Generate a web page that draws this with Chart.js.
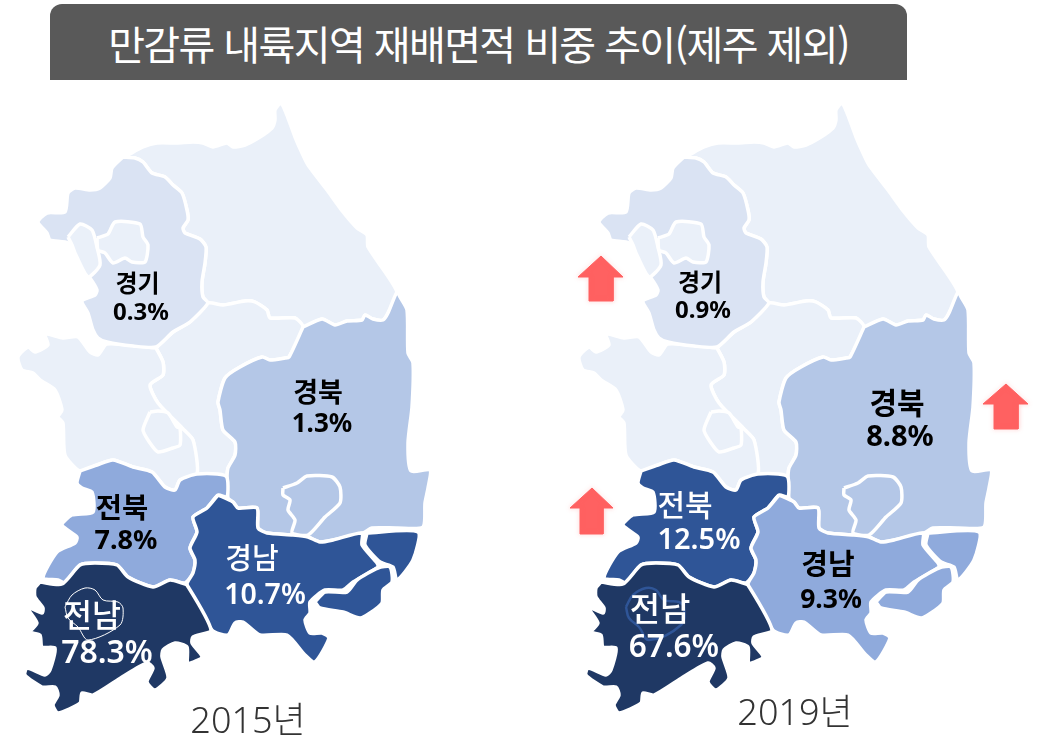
<!DOCTYPE html>
<html lang="ko"><head><meta charset="utf-8">
<script src="https://cdn.jsdelivr.net/npm/chart.js@4"></script>
<style>
html,body{margin:0;padding:0;background:#fff;width:1038px;height:742px;overflow:hidden}
#title{position:absolute;left:50px;top:4px;width:857px;height:76px;background:#595959;border-radius:12px 12px 0 0;color:#fff;
font-family:"Noto Sans CJK KR";font-weight:400;font-size:40px;letter-spacing:-1.6px;text-align:center;line-height:78px}
#a,#b{position:absolute;top:0}
#a{left:0}#b{left:519px}
</style></head><body>
<div id="title">만감류 내륙지역 재배면적 비중 추이(제주 제외)</div>
<div id="a" style="width:519px;height:742px"><canvas id="c1"></canvas></div>
<div id="b" style="width:519px;height:742px"><canvas id="c2"></canvas></div>
<script>
// Values (share of cultivated area, %)
const labelledRegions = ["경기","경북","전북","경남","전남"];
const share2015 = [0.3,1.3,7.8,10.7,78.3];
const share2019 = [0.9,8.8,12.5,9.3,67.6];
const years = ["2015년","2019년"];
const rankColors = ["#1F3864","#2F5597","#8FAADC","#B4C7E7","#DAE3F3"];
const baseColor = "#EAF0F9";

// Region outlines (map units)
const gangwon=[[128,155],[143,147],[157,143],[177,143],[193,142],[203,143],[213,147],[227,143],[233,147],[245,145],[260,137],[272,128],[275,120],[275,110],[281,103],[288,118],[295,137],[302,153],[308,165],[327,190],[343,212],[357,228],[367,235],[368,247],[397,292],[388,313],[383,320],[373,319],[365,315],[362,320],[347,321],[335,325],[322,319],[303,327],[295,318],[270,318],[267,310],[255,302],[245,301],[223,305],[208,303],[203,297],[202,282],[205,263],[206,247],[200,239],[185,233],[183,228],[188,220],[187,210],[182,193],[173,185],[165,177],[152,173],[143,162],[135,158],[123,157]];
const chungbuk=[[156,348],[173,332],[190,322],[208,303],[223,305],[245,301],[255,302],[267,310],[270,318],[295,318],[303,327],[289,357],[285,358],[270,360],[262,357],[240,367],[225,378],[218,402],[220,410],[223,430],[235,442],[235,455],[228,468],[226,476],[197,474],[193,440],[182,428],[158,403],[150,385],[163,375],[163,362]];
const chungnam=[[156,348],[107,344],[98,355],[90,352],[78,337],[63,338],[45,334],[48,345],[35,352],[28,347],[18,357],[22,370],[33,373],[40,380],[55,390],[62,410],[58,417],[63,423],[65,455],[80,471],[97,465],[113,460],[133,467],[152,472],[165,487],[175,490],[180,480],[197,474],[193,440],[182,428],[158,403],[150,385],[163,375],[163,362]];
const gyeonggi=[[123,157],[135,158],[143,162],[152,173],[165,177],[173,185],[182,193],[187,210],[188,220],[183,228],[185,233],[200,239],[206,247],[205,263],[202,282],[203,297],[208,303],[190,322],[173,332],[156,347],[133,346],[107,342],[98,338],[93,330],[88,313],[82,301],[95,295],[97,290],[90,278],[87,276],[75,257],[68,243],[50,240],[47,233],[38,222],[47,213],[65,212],[68,193],[75,188],[90,190],[100,188],[110,178],[112,168]];
const incheon=[[68,237],[80,224],[92,230],[97,247],[100,265],[88,277],[75,253],[72,245]];
const seoul=[[97,238],[108,234],[115,222],[140,224],[143,237],[148,245],[145,262],[132,262],[125,258],[113,263],[105,253],[98,250]];
const daejeon=[[150,412],[158,411],[168,413],[177,427],[180,428],[180,445],[173,448],[158,452],[150,443],[143,430]];
const gyeongbuk=[[303,327],[322,319],[335,325],[347,321],[362,320],[365,315],[373,319],[383,320],[388,313],[397,292],[400,297],[407,310],[408,353],[413,363],[412,407],[408,443],[411,471],[430,470],[428,488],[425,503],[423,527],[397,528],[372,528],[363,533],[333,540],[320,542],[308,537],[293,535],[267,533],[258,528],[257,508],[238,508],[233,502],[228,498],[227,480],[228,468],[235,455],[235,442],[223,430],[220,410],[218,402],[225,378],[240,367],[262,357],[270,360],[285,358],[289,357]];
const daegu=[[283,488],[297,483],[307,476],[332,477],[340,487],[340,503],[325,517],[308,535],[292,533],[295,520],[288,510],[290,500],[283,495]];
const jeonbuk=[[80,471],[77,483],[82,488],[92,492],[93,512],[72,515],[62,525],[77,537],[75,543],[57,552],[43,578],[58,580],[65,583],[80,565],[95,563],[117,565],[128,577],[153,587],[170,580],[185,583],[193,573],[195,560],[190,548],[197,532],[193,517],[207,508],[218,495],[227,497],[226,476],[197,474],[180,480],[175,490],[165,487],[152,472],[133,467],[113,460],[97,465]];
const gyeongnam=[[218,495],[233,502],[238,508],[257,508],[258,528],[267,533],[293,535],[308,537],[320,542],[333,540],[362,533],[362,545],[377,563],[378,567],[353,582],[343,590],[325,590],[310,602],[310,613],[305,620],[310,633],[322,633],[329,638],[315,662],[305,655],[287,635],[260,635],[243,622],[235,623],[228,635],[212,630],[187,585],[193,573],[195,560],[190,548],[197,532],[193,517],[207,508]];
const geoje=[[315,602],[325,592],[347,592],[357,580],[378,568],[390,567],[392,582],[383,590],[382,603],[370,613],[360,618],[343,612],[320,608]];
const ulsan=[[367,533],[418,532],[413,560],[397,580],[393,567],[380,562],[365,545]];
const jeonnam=[[40,582],[62,584],[80,565],[95,563],[117,565],[128,577],[153,587],[170,580],[182,583],[187,585],[211,630],[193,637],[192,643],[202,657],[188,663],[187,647],[175,643],[163,650],[162,657],[168,678],[155,690],[147,682],[153,668],[147,663],[122,677],[93,695],[82,693],[80,703],[58,713],[53,705],[58,695],[55,687],[42,687],[25,675],[27,668],[45,675],[50,670],[55,648],[42,647],[40,635],[30,632],[37,623],[27,607],[42,613],[43,608],[35,597],[35,588]];
const gwangju=[[65,607],[72,595],[85,588],[95,590],[103,600],[118,602],[123,608],[120,625],[88,640],[78,627],[68,618]];

// Rise arrows (map units), only on the 2019 map
const arrowWest=[[40,256],[62,277],[52,277],[52,301],[28,301],[28,277],[17,277]];
const arrowEast=[[445,384],[467,404],[457,404],[457,429],[433,429],[433,404],[422,404]];
const arrowSouth=[[31,488],[52,508],[42,508],[42,534],[19,534],[19,508],[9,508]];

// Label anchors and fonts, by labelled region
const labelAt2015=[[137.5,283,141,313],[318,392,322,425],[122,507,126,541],[252,558,265,596],[92,615,107,654]];
const labelAt2019=[[139,282,142,311],[336,403,339,438],[124,505,138,541],[267,564,270,600],[99,608,113,648]];
const sizes2015=[[24,24],[27,26],[28.5,27],[29,28.5],[31.5,32]];
const sizes2019=[[24,24],[30,29],[30,29],[29,26.5],[33,31.5]];
const yearAt=[[248,723],[234,715]];

function closed(p){return p.concat([p[0]]).map(q=>({x:q[0],y:q[1]}));}
function area(poly,fill,opts){return Object.assign({data:closed(poly),showLine:true,fill:'shape',backgroundColor:fill,borderColor:'#fff',borderWidth:3.5,pointRadius:0,tension:0.22,borderJoinStyle:'round'},opts||{});}

function buildChart(id,xMin,shares,labelAt,sizes,yearIdx,arrows,gwangjuLine){
  const rank=[...shares].sort((a,b)=>b-a);
  const col=labelledRegions.map((_,i)=>rankColors[4-rank.indexOf(shares[i])]).map(c=>c);
  const ordered=labelledRegions.map((_,i)=>rankColors[rank.indexOf(shares[i])]);
  const dark=c=>c===rankColors[0]||c===rankColors[1];
  const c0=ordered;
  let ds=[
    area(gangwon,baseColor),area(chungbuk,baseColor),area(chungnam,baseColor),
    area(gyeonggi,c0[0]),area(incheon,baseColor),area(seoul,baseColor),area(daejeon,baseColor),
    area(gyeongbuk,c0[1]),area(daegu,c0[1]),
    area(jeonbuk,c0[2]),
    area(gyeongnam,c0[3]),area(geoje,c0[3]),area(ulsan,c0[3]),
    area(jeonnam,c0[4]),
    area(gwangju,c0[4],gwangjuLine)
  ];
  arrows.forEach(a=>ds.push(area(a,'#FF6161',{borderColor:'#FF6161',borderWidth:1,tension:0,glow:true,borderJoinStyle:'miter'})));
  const n=ds.length; ds.forEach((d,i)=>d.order=n-i);
  const textPlugin={id:'txt',
    beforeDatasetDraw(c,args){const d=c.data.datasets[args.index];if(d.glow){c.ctx.save();c.ctx.shadowColor='rgba(255,97,97,.55)';c.ctx.shadowBlur=4;}},
    afterDatasetDraw(c,args){const d=c.data.datasets[args.index];if(d.glow){c.ctx.restore();}},
    afterDatasetsDraw(c){
      const ctx=c.ctx,X=c.scales.x,Y=c.scales.y;
      ctx.save();ctx.textAlign='center';ctx.textBaseline='middle';
      labelledRegions.forEach((name,i)=>{
        const isDark=dark(c0[i]);
        ctx.fillStyle=isDark?'#fff':'#000';
        ctx.font=(isDark?'500':'700')+' '+sizes[i][0]+'px "Noto Sans CJK KR"';
        ctx.fillText(name,X.getPixelForValue(labelAt[i][0]),Y.getPixelForValue(labelAt[i][1]));
        ctx.font=(isDark?'600':'700')+' '+sizes[i][1]+'px "Noto Sans","Noto Sans CJK KR"';
        ctx.fillText(shares[i].toFixed(1)+'%',X.getPixelForValue(labelAt[i][2]),Y.getPixelForValue(labelAt[i][3]));
      });
      ctx.fillStyle='#333';ctx.font='300 36px "Noto Sans","Noto Sans CJK KR"';
      ctx.fillText(years[yearIdx],X.getPixelForValue(yearAt[yearIdx][0]),Y.getPixelForValue(yearAt[yearIdx][1]));
      ctx.restore();
    }};
  return new Chart(document.getElementById(id),{type:'scatter',data:{datasets:ds},plugins:[textPlugin],
    options:{responsive:true,maintainAspectRatio:false,animation:false,layout:{padding:0},events:[],clip:false,
      plugins:{legend:{display:false},tooltip:{enabled:false},title:{display:false}},
      scales:{x:{type:'linear',min:xMin,max:xMin+519,display:false},y:{type:'linear',min:0,max:742,reverse:true,display:false}}}});
}
buildChart('c1',0,share2015,labelAt2015,sizes2015,0,[],{borderWidth:1,tension:0.3});
buildChart('c2',-42,share2019,labelAt2019,sizes2019,1,[arrowWest,arrowEast,arrowSouth],{borderWidth:2.5,borderColor:'#2F5597',tension:0.4});
</script>
</body></html>
